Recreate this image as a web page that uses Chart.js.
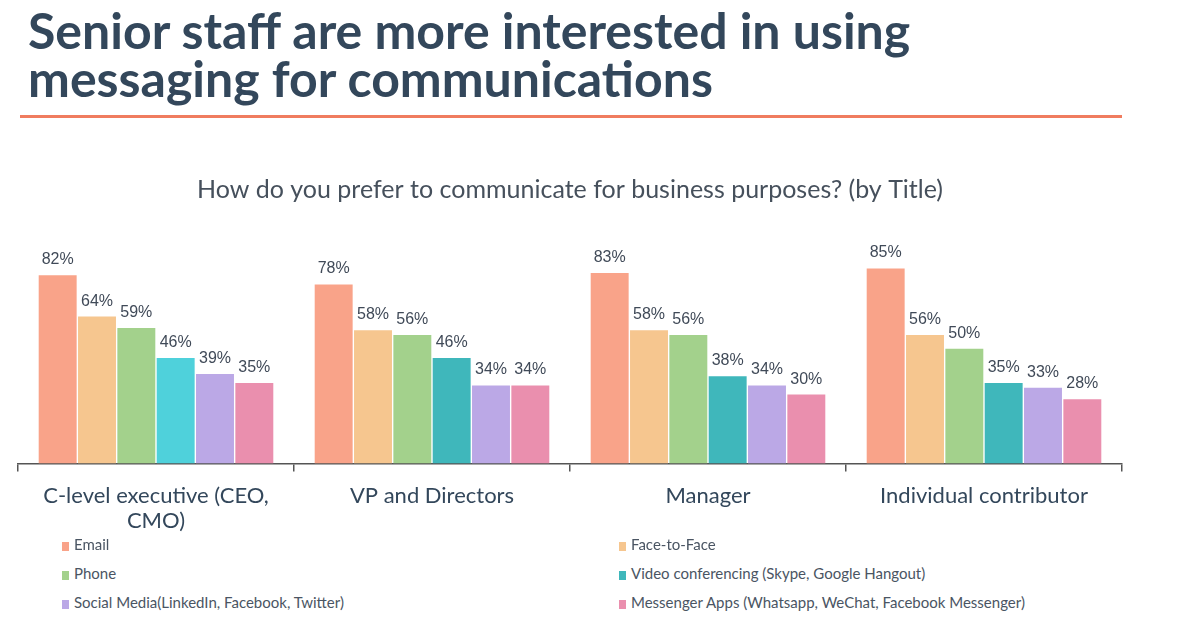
<!DOCTYPE html>
<html>
<head>
<meta charset="utf-8">
<script src="https://cdn.jsdelivr.net/npm/chart.js@4.4.0/dist/chart.umd.min.js"></script>
<style>
	body { margin: 0; background: #fff; width: 1195px; height: 623px; overflow: hidden; position: relative; font-family: Lato, sans-serif; }
	#titulo { position: absolute; left: 28px; top: 6px; margin: 0; font-size: 50px; line-height: 48px; font-weight: 700; color: #33475b; }
	#linha { position: absolute; left: 20px; top: 115px; width: 1102px; height: 3px; background: #f07c5f; }
	#grafico { position: absolute; left: 0; top: 140px; }
	#legenda { position: absolute; left: 0; top: 535px; width: 1195px; }
	.item { position: absolute; font-size: 15px; color: #4a5563; white-space: nowrap; }
	.item span { display: inline-block; width: 7px; height: 9px; margin-right: 5px; vertical-align: -1px; }
</style>
</head>
<body>
<h1 id="titulo">Senior staff are more interested in using<br>messaging for communications</h1>
<div id="linha"></div>
<canvas id="grafico" width="1195" height="412"></canvas>
<div id="legenda"></div>
<script>
const categorias = [["C-level executive (CEO,", "CMO)"], "VP and Directors", "Manager", "Individual contributor"];
const series = ["Email", "Face-to-Face", "Phone", "Video conferencing (Skype, Google Hangout)", "Social Media(LinkedIn, Facebook, Twitter)", "Messenger Apps (Whatsapp, WeChat, Facebook Messenger)"];
const email = [82, 78, 83, 85];
const faceToFace = [64, 58, 58, 56];
const phone = [59, 56, 56, 50];
const video = [46, 46, 38, 35];
const social = [39, 34, 34, 33];
const messenger = [35, 34, 30, 28];
const cores = ["#f9a389", "#f6c68f", "#a3d18c", ["#4fd1db", "#3fb7bb", "#3fb7bb", "#3fb7bb"], "#bba8e6", "#ea8fae"];

const valores = [email, faceToFace, phone, video, social, messenger];

const rotulos = {
	id: "rotulos",
	afterDatasetsDraw(chart) {
		const ctx = chart.ctx;
		ctx.save();
		ctx.font = "16px 'Liberation Sans', Arial, sans-serif";
		ctx.fillStyle = "#404a58";
		ctx.textAlign = "center";
		ctx.textBaseline = "alphabetic";
		chart.data.datasets.forEach((ds, i) => {
			chart.getDatasetMeta(i).data.forEach((bar, j) => {
				ctx.fillText(ds.data[j] + "%", bar.x, bar.y - 11);
			});
		});
		ctx.restore();
	},
};

const grafico = new Chart(document.querySelector("#grafico"), {
	type: "bar",
	data: {
		labels: categorias,
		datasets: series.map((nome, i) => ({
			label: nome,
			data: valores[i],
			backgroundColor: cores[i],
			categoryPercentage: 0.855,
			barPercentage: 0.965,
		})),
	},
	options: {
		responsive: false,
		animation: false,
		layout: { padding: { left: 18, right: 73, bottom: 6 } },
		plugins: {
			legend: { display: false },
			tooltip: { enabled: false },
			title: {
				display: true,
				text: "How do you prefer to communicate for business purposes? (by Title)",
				font: { family: "Lato", size: 25, weight: 400 },
				color: "#46505c",
				padding: { top: 35, bottom: 29 },
			},
		},
		scales: {
			x: {
				grid: { display: true, offset: true, drawOnChartArea: false, drawTicks: true, tickLength: 8, color: "#555", lineWidth: 1.5 },
				border: { display: true, color: "#555", width: 1.5 },
				ticks: { font: { family: "Lato", size: 22, lineHeight: 1.15 }, color: "#33475b", padding: 12, maxRotation: 0 },
			},
			y: {
				display: false,
				min: 0,
				max: 100,
			},
		},
	},
	plugins: [rotulos],
});

const legenda = document.querySelector("#legenda");
series.forEach((nome, i) => {
	const cor = Array.isArray(cores[i]) ? cores[i][1] : cores[i];
	const item = document.createElement("div");
	item.className = "item";
	item.style.left = (i % 2 === 0 ? 62 : 619) + "px";
	item.style.top = Math.floor(i / 2) * 29 + "px";
	item.innerHTML = `<span style="background:${cor}"></span>${nome}`;
	legenda.appendChild(item);
});
</script>
</body>
</html>
